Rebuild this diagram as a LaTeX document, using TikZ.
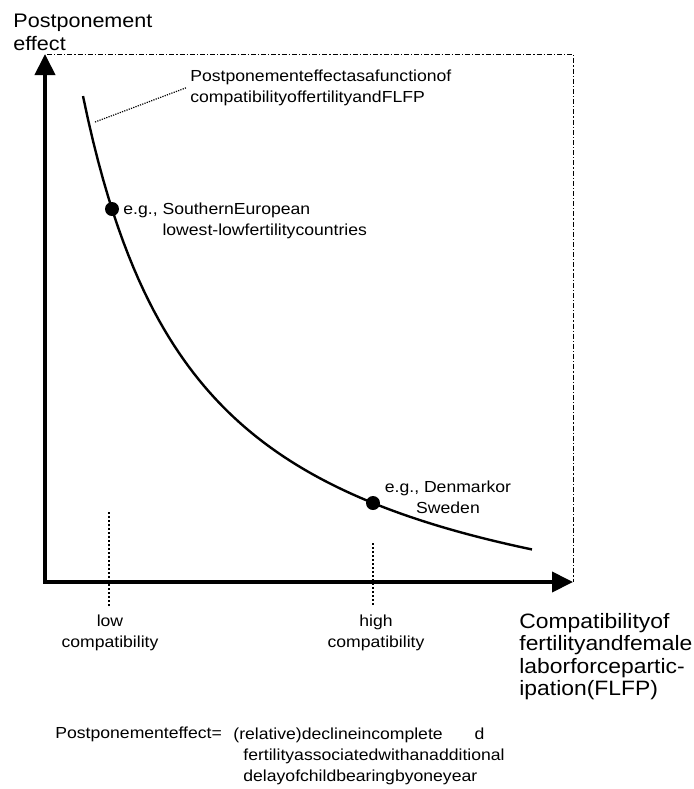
\documentclass[tikz,border=0pt]{standalone}
\usepackage{fontspec}
\setmainfont{Liberation Sans}[FakeStretch=1.1]
\usetikzlibrary{arrows.meta,positioning}

\tikzset{
  axis/.style={line width=2pt,line join=miter,
    {Triangle[length=10.5pt,width=10pt]}-{Triangle[length=10.5pt,width=10pt]}},
  frame/.style={line width=0.4pt,dash pattern=on 2.5pt off 1pt on 0.6pt off 1pt},
  tick/.style={line width=1pt,dash pattern=on 1pt off 1pt},
  leader/.style={line width=0.6pt,dash pattern=on 0.6pt off 0.6pt},
  curve/.style={line width=1.2pt},
  dot/.style={circle,fill,inner sep=0pt,minimum size=7pt}
}

\begin{document}
\begin{tikzpicture}[x=0.5pt,y=-0.5pt,
  big/.style={font=\fontsize{9.8}{11.5}\selectfont,inner sep=0pt,align=left},
  xbig/.style={font=\fontsize{10.4}{11.25}\selectfont,inner sep=0pt,align=left},
  small/.style={font=\fontsize{8}{10.6}\selectfont,inner sep=0pt,align=left}]

  \useasboundingbox (0,0) rectangle (694,789);

  % axes and frame
  \coordinate (origin) at (45,582);
  \coordinate (ytip) at (45,54);
  \coordinate (xtip) at (573,582);
  \draw[frame] ([xshift=1pt]ytip) -- (ytip -| xtip) -- (xtip);
  \draw[axis] (ytip) -- (origin) -- (xtip);

  % curve
  \draw[curve] plot[domain=83:532,samples=90] (\x,{668.6-675.58/((\x+35)/100)});
  \node[dot] (south) at (112,209) {};
  \node[dot] (nordic) at (373,503) {};

  % labels
  \node[big,anchor=north west] (ylab) at (13,14) {Postponement\\effect};
  \node[xbig,anchor=north west] (xlab) at (519,613)
    {Compatibilityof\\fertilityandfemale\\laborforcepartic-\\ipation(FLFP)};
  \node[small,anchor=north west] (curvelab) at (190,69)
    {Postponementeffectasafunctionof\\compatibilityoffertilityandFLFP};
  \node[small,anchor=north west] (southlab) at (123,202)
    {e.g., SouthernEuropean\\\phantom{e.g., }lowest-lowfertilitycountries};
  \node[small,align=center,anchor=north] (nordiclab) at (448,480) {e.g., Denmarkor\\Sweden};
  \node[small,align=center,anchor=north] (lowlab) at (110,614) {low\\compatibility};
  \node[small,align=center,anchor=north] (highlab) at (376,614) {high\\compatibility};
  \node[small,anchor=north west] (deflab) at (55,727) {Postponementeffect=};
  \node[small,anchor=north west] (deftext) at (233,727)
    {(relative)declineincomplete\hspace{16pt}d\\
     \hspace*{5pt}fertilityassociatedwithanadditional\\
     \hspace*{5pt}delayofchildbearingbyoneyear};

  % ticks and leader
  \coordinate (lead) at (95,122);
  \draw[leader] (lead) -- ([xshift=-1.5pt]curvelab.west);
  \coordinate (lowtop) at (109,512);
  \coordinate (lowend) at (109,607);
  \coordinate (hightop) at (373,543);
  \coordinate (highend) at (373,607);
  \draw[tick] (lowtop) -- (lowend);
  \draw[tick] (hightop) -- (highend);
\end{tikzpicture}
\end{document}
